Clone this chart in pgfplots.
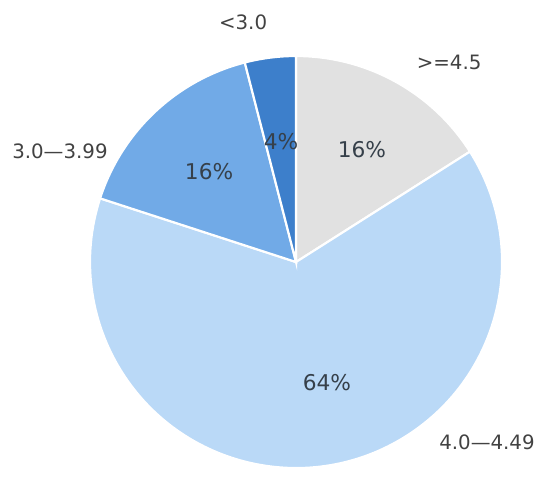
\documentclass[border=0pt]{standalone}
\usepackage{pgfplots}
\pgfplotsset{compat=1.18}
\usepackage{fontspec}
\setmainfont{DejaVu Sans}

\definecolor{sgray}{HTML}{E1E1E1}
\definecolor{slight}{HTML}{BAD9F7}
\definecolor{smid}{HTML}{71AAE7}
\definecolor{sdark}{HTML}{3D7FCB}
\definecolor{lbl}{HTML}{424242}
\definecolor{pct}{HTML}{36404A}

\tikzset{
    lab/.style={text=lbl, font=\fontsize{8.2}{9}\selectfont},
    pc/.style={text=pct, font=\fontsize{9}{10}\selectfont},
}

% shares (%), clockwise from 12 o'clock: >=4.5, 4.0-4.49, 3.0-3.99, <3.0
% 16 64 16 4  -> boundaries at 90, 32.4, -198, -255.6, -270 degrees

\begin{document}
\begin{tikzpicture}
\begin{axis}[
    x=3cm, y=3cm,
    xmin=-1.437, xmax=1.233,
    ymin=-1.044, ymax=1.272,
    axis line style={draw=none},
    ticks=none,
    clip=false,
]
    \fill[sgray, draw=white, line width=0.9pt]
        (axis cs:0,0) -- (axis cs:{cos(90)},{sin(90)})
        arc[start angle=90, end angle=32.4, radius=3cm] -- cycle;
    \fill[slight, draw=white, line width=0.9pt]
        (axis cs:0,0) -- (axis cs:{cos(32.4)},{sin(32.4)})
        arc[start angle=32.4, end angle=-198, radius=3cm] -- cycle;
    \fill[smid, draw=white, line width=0.9pt]
        (axis cs:0,0) -- (axis cs:{cos(-198)},{sin(-198)})
        arc[start angle=-198, end angle=-255.6, radius=3cm] -- cycle;
    \fill[sdark, draw=white, line width=0.9pt]
        (axis cs:0,0) -- (axis cs:{cos(-255.6)},{sin(-255.6)})
        arc[start angle=-255.6, end angle=-270, radius=3cm] -- cycle;

    % percentages
    \node[pc] at (axis cs:0.320,0.544) {16\%};
    \node[pc] at (axis cs:0.150,-0.583) {64\%};
    \node[pc] at (axis cs:-0.422,0.437) {16\%};
    \node[pc] at (axis cs:-0.073,0.587) {4\%};

    % category names
    \node[lab] at (axis cs:0.743,0.971) {>=4.5};
    \node[lab] at (axis cs:0.927,-0.874) {4.0—4.49};
    \node[lab] at (axis cs:-1.146,0.539) {3.0—3.99};
    \node[lab] at (axis cs:-0.257,1.165) {<3.0};
\end{axis}
\end{tikzpicture}
\end{document}
